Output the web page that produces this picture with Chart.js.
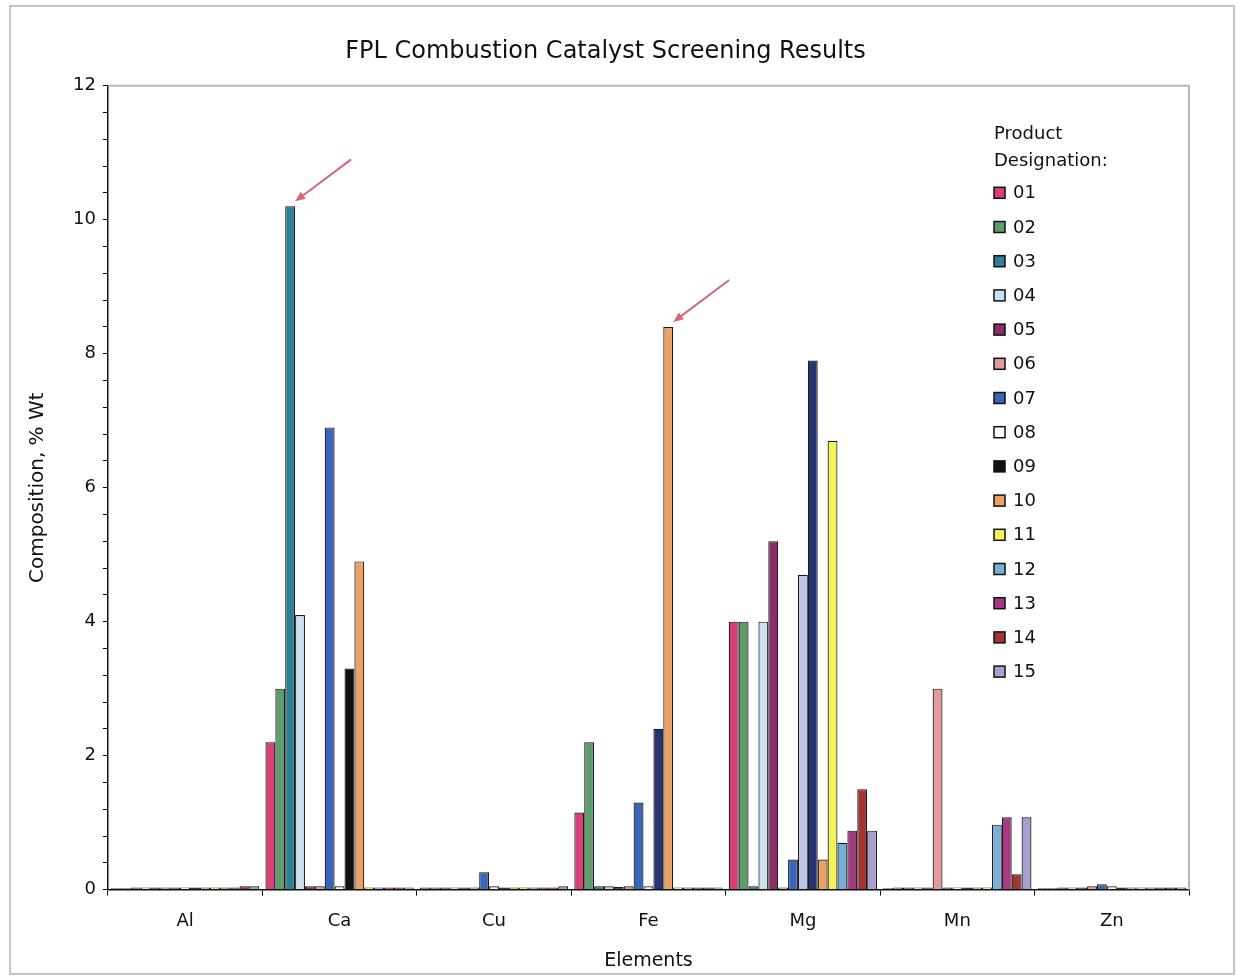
<!DOCTYPE html>
<html>
<head>
<meta charset="utf-8">
<script src="https://cdn.jsdelivr.net/npm/chart.js@4.4.0/dist/chart.umd.min.js"></script>
<style>
  html, body { margin: 0; padding: 0; background: #fff; }
  #wrap { width: 1237px; height: 980px; position: relative; }
</style>
</head>
<body>
<div id="wrap"><canvas id="myChart" width="1237" height="980"></canvas></div>
<script>
// elements on the x axis
var elements = ['Al', 'Ca', 'Cu', 'Fe', 'Mg', 'Mn', 'Zn'];
var designations = ['01', '02', '03', '04', '05', '06', '07', '08', '09', '10', '11', '12', '13', '14', '15'];

// composition, % wt, per product (Al, Ca, Cu, Fe, Mg, Mn, Zn)
var p01 = [0.02, 2.2, 0.03, 1.15, 4.0, 0.02, 0.02];
var p02 = [0.02, 3.0, 0.03, 2.2, 4.0, 0.03, 0.02];
var p03 = [0.03, 10.2, 0.03, 0.05, 0.05, 0.03, 0.03];
var p04 = [0.03, 4.1, 0.03, 0.05, 4.0, 0.03, 0.03];
var p05 = [0.03, 0.05, 0.03, 0.04, 5.2, 0.03, 0.03];
var p06 = [0.03, 0.05, 0.03, 0.05, 0.03, 3.0, 0.05];
var p07 = [0.03, 6.9, 0.26, 1.3, 0.45, 0.03, 0.08];
var p08 = [0.03, 0.05, 0.05, 0.05, 4.7, 0.03, 0.05];
var p09 = [0.03, 3.3, 0.03, 2.4, 7.9, 0.03, 0.03];
var p10 = [0.03, 4.9, 0.03, 8.4, 0.45, 0.03, 0.03];
var p11 = [0.03, 0.03, 0.03, 0.03, 6.7, 0.03, 0.03];
var p12 = [0.03, 0.03, 0.03, 0.03, 0.7, 0.97, 0.03];
var p13 = [0.03, 0.03, 0.03, 0.03, 0.88, 1.08, 0.03];
var p14 = [0.05, 0.03, 0.03, 0.03, 1.5, 0.23, 0.03];
var p15 = [0.05, 0.03, 0.05, 0.03, 0.88, 1.08, 0.03];
var values = [p01, p02, p03, p04, p05, p06, p07, p08, p09, p10, p11, p12, p13, p14, p15];

var yTicks = [0, 2, 4, 6, 8, 10, 12];

// styling
var colors = ['#d9407a', '#5e9c6e', '#2f7f95', '#cde0ee', '#8a2e68', '#e39a9a', '#3b66b8',
  '#ffffff', '#111111', '#e9a264', '#f2f25a', '#7ab0d8', '#a43a80', '#a33434', '#aa9fcc'];
// the print shows 08 and 09 in other shades for some groups
var barColors = colors.slice();
barColors[7] = ['#ffffff', '#ffffff', '#ffffff', '#ffffff', '#c0c6e6', '#ffffff', '#ffffff'];
barColors[8] = ['#111111', '#111111', '#111111', '#27336e', '#27336e', '#111111', '#111111'];

var FONT = "'DejaVu Sans', Verdana, sans-serif";

var datasets = designations.map(function (d, i) {
  return {
    label: d,
    data: values[i],
    backgroundColor: barColors[i],
    borderColor: '#1a1a1a',
    borderWidth: 1.2,
    categoryPercentage: 0.96,
    barPercentage: 1.0
  };
});

var framePlugin = {
  id: 'frame',
  beforeDraw: function (chart) {
    var c = chart.ctx;
    c.save();
    c.fillStyle = '#fff';
    c.fillRect(0, 0, chart.width, chart.height);
    c.strokeStyle = '#c4c4c4';
    c.lineWidth = 2;
    c.strokeRect(10, 6, 1224, 968);
    c.restore();
  },
  afterDraw: function (chart) {
    var a = chart.chartArea, c = chart.ctx;
    c.save();
    c.strokeStyle = '#b8b8b8';
    c.lineWidth = 2;
    c.beginPath();
    c.moveTo(a.left, a.top);
    c.lineTo(a.right, a.top);
    c.lineTo(a.right, a.bottom);
    c.stroke();
    c.restore();
  }
};

var legendPlugin = {
  id: 'sideLegend',
  afterDraw: function (chart) {
    var a = chart.chartArea, c = chart.ctx;
    var x = a.right - 195, y = a.top + 49;
    c.save();
    c.fillStyle = '#111';
    c.font = '18px ' + FONT;
    c.textBaseline = 'middle';
    c.fillText('Product', x, y);
    c.fillText('Designation:', x, y + 27);
    chart.data.datasets.forEach(function (ds, i) {
      var yy = a.top + 107 + i * 34.2;
      c.fillStyle = colors[i];
      c.fillRect(x, yy - 5.5, 11, 11);
      c.strokeStyle = '#111';
      c.lineWidth = 1.5;
      c.strokeRect(x, yy - 5.5, 11, 11);
      c.fillStyle = '#111';
      c.fillText(ds.label, x + 19, yy + 1);
    });
    c.restore();
  }
};

function arrowTo(c, tx, ty) {
  var sx = tx + 56, sy = ty - 42;
  var ang = Math.atan2(ty - sy, tx - sx);
  c.beginPath();
  c.moveTo(sx, sy);
  c.lineTo(tx - 6 * Math.cos(ang), ty - 6 * Math.sin(ang));
  c.stroke();
  c.beginPath();
  c.moveTo(tx, ty);
  c.lineTo(tx - 11 * Math.cos(ang - 0.4), ty - 11 * Math.sin(ang - 0.4));
  c.lineTo(tx - 11 * Math.cos(ang + 0.4), ty - 11 * Math.sin(ang + 0.4));
  c.closePath();
  c.fill();
}

var arrowPlugin = {
  id: 'arrows',
  afterDatasetsDraw: function (chart) {
    var c = chart.ctx;
    c.save();
    c.strokeStyle = '#d5677a';
    c.fillStyle = '#d5677a';
    c.lineWidth = 2;
    [[2, 1], [9, 3]].forEach(function (p) {
      var el = chart.getDatasetMeta(p[0]).data[p[1]];
      arrowTo(c, el.x + 5, el.y - 5);
    });
    c.restore();
  }
};

var ctx = document.getElementById('myChart').getContext('2d');
var chart = new Chart(ctx, {
  type: 'bar',
  data: {
    labels: elements,
    datasets: datasets
  },
  plugins: [framePlugin, legendPlugin, arrowPlugin],
  options: {
    responsive: false,
    animation: false,
    layout: { padding: { left: 22, right: 48, top: 0, bottom: 8 } },
    plugins: {
      legend: { display: false },
      tooltip: { enabled: false },
      title: {
        display: true,
        text: 'FPL Combustion Catalyst Screening Results',
        color: '#111',
        font: { family: FONT, size: 24, weight: 'normal' },
        padding: { top: 37, bottom: 20 }
      }
    },
    scales: {
      x: {
        grid: { display: true, drawOnChartArea: false, offset: true, tickLength: 6, color: '#111' },
        border: { color: '#111', width: 1.5 },
        ticks: { color: '#111', font: { family: FONT, size: 18 }, padding: 15 },
        title: {
          display: true, text: 'Elements', color: '#111',
          font: { family: FONT, size: 19 }, padding: { top: 2, bottom: 0 }
        }
      },
      y: {
        min: 0,
        max: 12,
        grid: { display: true, drawOnChartArea: false, tickLength: 5, color: '#111' },
        border: { color: '#111', width: 1.5 },
        ticks: {
          stepSize: 0.4,
          autoSkip: false,
          color: '#111',
          font: { family: FONT, size: 18 },
          padding: 7,
          callback: function (v) {
            var r = Math.round(v);
            return (Math.abs(v - r) < 1e-6 && yTicks.indexOf(r) >= 0) ? String(r) : '';
          }
        },
        title: {
          display: true, text: 'Composition, % Wt', color: '#111',
          font: { family: FONT, size: 20 }, padding: { top: 4, bottom: 16 }
        }
      }
    }
  }
});
</script>
</body>
</html>
